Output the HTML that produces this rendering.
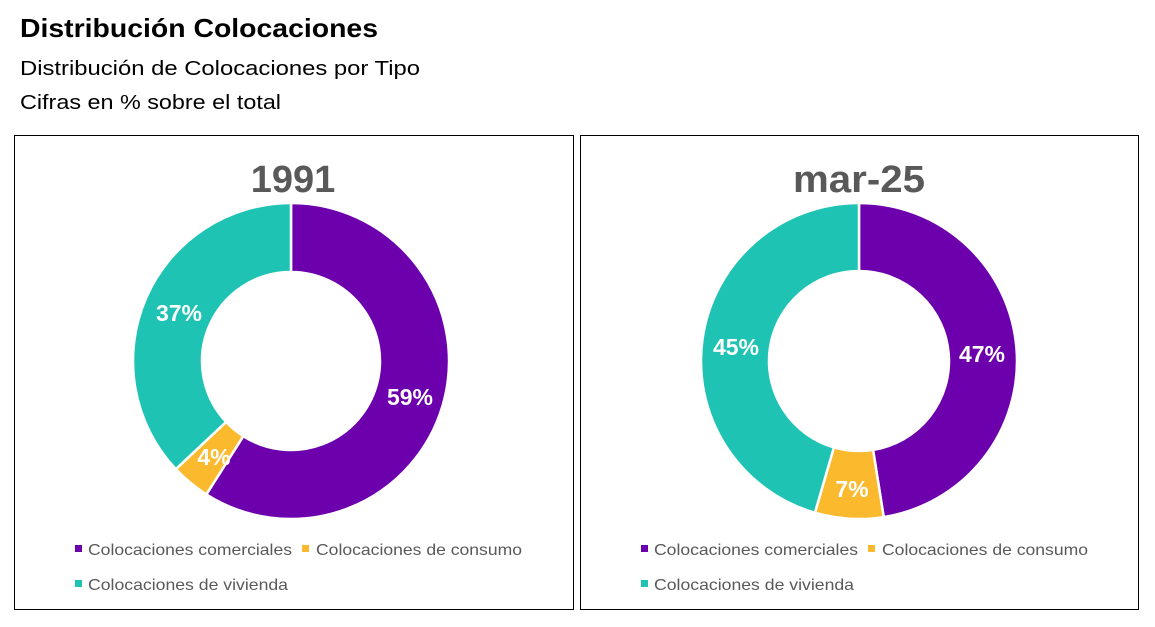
<!DOCTYPE html>
<html><head><meta charset="utf-8"><style>
body{margin:0;background:#fff;width:1155px;height:627px;overflow:hidden}
svg{display:block;font-family:"Liberation Sans",sans-serif}
</style></head><body>
<svg id="s" width="1155" height="627" viewBox="0 0 1155 627">
<text x="20" y="37" font-size="26" font-weight="bold" fill="#000" textLength="358" lengthAdjust="spacingAndGlyphs">Distribución Colocaciones</text>
<text x="20" y="75" font-size="20" fill="#000" textLength="400" lengthAdjust="spacingAndGlyphs">Distribución de Colocaciones por Tipo</text>
<text x="20" y="109" font-size="20" fill="#000" textLength="261" lengthAdjust="spacingAndGlyphs">Cifras en % sobre el total</text>
<rect x="14.5" y="135.5" width="559" height="474" fill="#fff" stroke="#000" stroke-width="1"/>
<rect x="580.5" y="135.5" width="558" height="474" fill="#fff" stroke="#000" stroke-width="1"/>
<text x="293" y="192" font-size="38" font-weight="bold" fill="#595959" text-anchor="middle">1991</text>
<text x="859" y="192" font-size="38" font-weight="bold" fill="#595959" text-anchor="middle" textLength="132" lengthAdjust="spacingAndGlyphs">mar-25</text>
<g id="d"></g>
<g font-size="16" fill="#595959">
<rect x="75" y="545" width="7" height="7" fill="#6B00AC"/>
<text x="88" y="555" textLength="204" lengthAdjust="spacingAndGlyphs">Colocaciones comerciales</text>
<rect x="302" y="545" width="7" height="7" fill="#FBBA2D"/>
<text x="316" y="555" textLength="206" lengthAdjust="spacingAndGlyphs">Colocaciones de consumo</text>
<rect x="75" y="580" width="7" height="7" fill="#1FC3B3"/>
<text x="88" y="590" textLength="200" lengthAdjust="spacingAndGlyphs">Colocaciones de vivienda</text>
<rect x="641" y="545" width="7" height="7" fill="#6B00AC"/>
<text x="654" y="555" textLength="204" lengthAdjust="spacingAndGlyphs">Colocaciones comerciales</text>
<rect x="868" y="545" width="7" height="7" fill="#FBBA2D"/>
<text x="882" y="555" textLength="206" lengthAdjust="spacingAndGlyphs">Colocaciones de consumo</text>
<rect x="641" y="580" width="7" height="7" fill="#1FC3B3"/>
<text x="654" y="590" textLength="200" lengthAdjust="spacingAndGlyphs">Colocaciones de vivienda</text>
</g>
<g font-size="23" font-weight="bold" fill="#fff" text-anchor="middle">
<text x="410" y="405">59%</text>
<text x="214" y="465">4%</text>
<text x="179" y="321">37%</text>
<text x="982" y="362">47%</text>
<text x="852" y="497">7%</text>
<text x="736" y="355">45%</text>
</g>
</svg>
<script>
var cols=["#6B00AC","#FBBA2D","#1FC3B3"];
function donut(cx,cy,R,r,vals){
 var t=vals.reduce((a,b)=>a+b,0),a=0,h="";
 vals.forEach(function(v,i){
  var a0=a/t*2*Math.PI,a1=(a+v)/t*2*Math.PI;a+=v;
  var p=(ang,rr)=>[(cx+rr*Math.sin(ang)).toFixed(2),(cy-rr*Math.cos(ang)).toFixed(2)];
  var L=(a1-a0)>Math.PI?1:0;
  var o0=p(a0,R),o1=p(a1,R),i1=p(a1,r),i0=p(a0,r);
  h+='<path d="M'+o0+' A'+R+' '+R+' 0 '+L+' 1 '+o1+' L'+i1+' A'+r+' '+r+' 0 '+L+' 0 '+i0+' Z" fill="'+cols[i]+'" stroke="#fff" stroke-width="2.5"/>';
 });
 return h;
}
var g=document.getElementById("d");
g.innerHTML=donut(291,361,158,89,[59,4,37])+donut(859,361,158,90,[47.5,7,45.5]);
</script>
</body></html>
